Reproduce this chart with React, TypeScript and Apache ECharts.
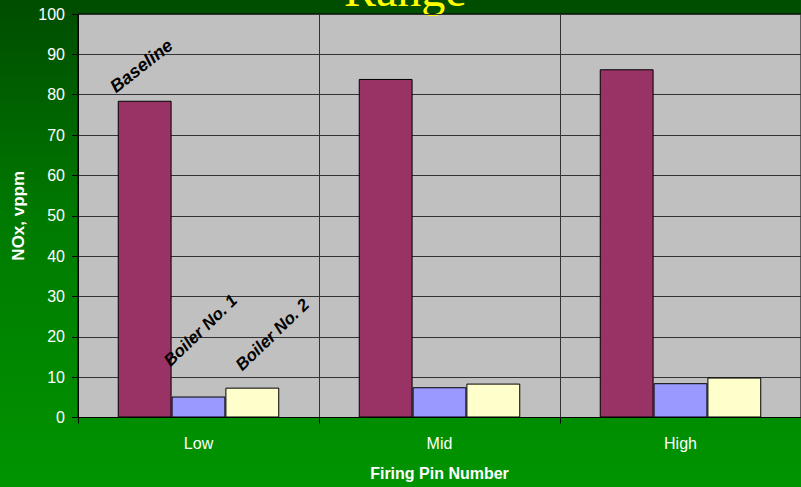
import React, { useEffect, useRef } from "react";
import * as echarts from "echarts";

const categories = ["Low", "Mid", "High"];
const seriesNames = ["Baseline", "Boiler No. 1", "Boiler No. 2"];
const baselineValues = [78.5, 83.9, 86.3];
const boiler1Values = [5.2, 7.5, 8.5];
const boiler2Values = [7.4, 8.4, 9.9];
const yTicks = { min: 0, max: 100, interval: 10 };
const titleText = "Range";
const xAxisName = "Firing Pin Number";
const yAxisName = "NOx, vppm";

const colors = ["#993366", "#9999FF", "#FFFFCC"];
const labelOffsets: [number, number][] = [
  [0, -5],
  [1, -27],
  [19, -14],
];
const labelRotate = [38, 44, 44];
const labelSizes = [18, 17, 17];

export default function App() {
  const ref = useRef<HTMLDivElement>(null);
  useEffect(() => {
    if (!ref.current) return;
    const chart = echarts.init(ref.current, undefined, { renderer: "svg" });
    const valueSets = [baselineValues, boiler1Values, boiler2Values];
    const font = "Liberation Sans, Arial, sans-serif";
    chart.setOption({
      animation: false,
      backgroundColor: "transparent",
      graphic: [
        {
          type: "text",
          left: 344,
          top: -35,
          style: {
            text: titleText,
            fill: "#FFFF00",
            font: "48px 'Liberation Serif', 'Times New Roman', serif",
          },
        },
      ],
      grid: {
        left: 78,
        top: 14,
        right: -3,
        bottom: 69.5,
        show: true,
        backgroundColor: "#C0C0C0",
        borderColor: "#000",
        borderWidth: 1,
      },
      xAxis: {
        type: "category",
        data: categories,
        name: xAxisName,
        nameLocation: "middle",
        nameGap: 48,
        nameTextStyle: { color: "#fff", fontSize: 16, fontWeight: "bold", fontFamily: font },
        axisLine: { show: true, lineStyle: { color: "#000", width: 1 } },
        axisTick: { show: true, length: 6, lineStyle: { color: "#000" } },
        axisLabel: { color: "#fff", fontSize: 16, margin: 18, fontFamily: font },
        splitLine: { show: true, lineStyle: { color: "#333", width: 1 } },
      },
      yAxis: {
        type: "value",
        min: yTicks.min,
        max: yTicks.max,
        interval: yTicks.interval,
        name: yAxisName,
        nameLocation: "middle",
        nameGap: 51,
        nameRotate: 90,
        nameTextStyle: { color: "#fff", fontSize: 17, fontWeight: "bold", fontFamily: font },
        axisLine: { show: true, lineStyle: { color: "#000", width: 1 } },
        axisTick: { show: true, length: 6, lineStyle: { color: "#000" } },
        axisLabel: { color: "#fff", fontSize: 16, margin: 13, fontFamily: font },
        splitLine: { show: true, lineStyle: { color: "#333", width: 1 } },
      },
      series: seriesNames.map((name, si) => ({
        type: "bar",
        name,
        barGap: "0%",
        barCategoryGap: "33%",
        itemStyle: { color: colors[si], borderColor: "#000", borderWidth: 1 },
        data: valueSets[si].map((v, i) =>
          i === 0
            ? {
                value: v,
                label: {
                  show: true,
                  formatter: name,
                  position: labelOffsets[si],
                  rotate: labelRotate[si],
                  align: "left",
                  verticalAlign: "bottom",
                  color: "#000",
                  fontSize: labelSizes[si],
                  fontWeight: "bold",
                  fontStyle: "italic",
                  fontFamily: font,
                },
              }
            : v
        ),
      })),
    });
    return () => chart.dispose();
  }, []);
  return (
    <div
      ref={ref}
      style={{
        position: "fixed",
        left: 0,
        top: 0,
        width: 801,
        height: 487,
        background: "linear-gradient(to bottom, #004C00 0%, #007A00 45%, #009400 100%)",
      }}
    />
  );
}
